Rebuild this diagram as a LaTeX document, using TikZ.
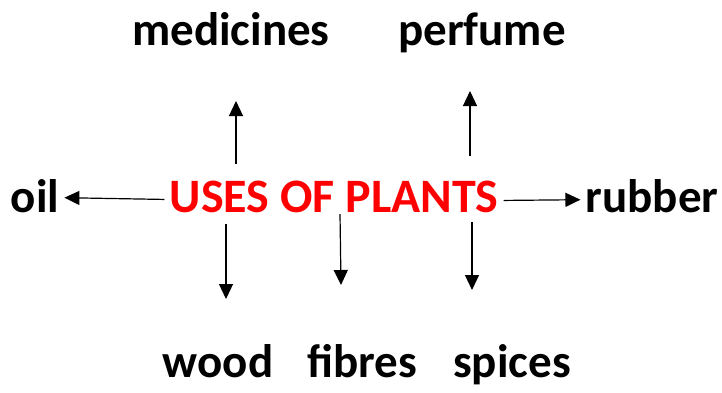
\documentclass[tikz,border=0pt]{standalone}
\usepackage{fontspec}
\setmainfont{Carlito}
\usepackage{tikz}
\usetikzlibrary{arrows.meta,positioning,calc}
\definecolor{usesred}{HTML}{FF0000}

\begin{document}
\begin{tikzpicture}[
    x=1pt, y=-1pt,
    word/.style={anchor=base, inner sep=5pt, font=\fontsize{47}{56}\selectfont\bfseries},
    title/.style={word, text=usesred, font=\fontsize{48}{56}\selectfont\bfseries},
    arrow/.style={-{Triangle[length=15pt,width=14pt]}, line width=1.2pt, color=black},
]
    \useasboundingbox (0,0) rectangle (722,392);

    \node[title] (uses) at (334,212) {USES OF PLANTS};

    \node[word] (med) at (231,45) {medicines};
    \node[word] (perf) at (482,45) {perfume};
    \node[word] (oil) at (35,212) {oil};
    \node[word] (rub) at (652,212) {rubber};
    \node[word] (wood) at (218,377) {wood};
    \node[word] (fib) at (362,377) {fibres};
    \node[word] (spic) at (512,377) {spices};

    % arrow ends
    \coordinate (med0) at (236,164);  \coordinate (med1) at (236,101);
    \coordinate (perf0) at (470,156); \coordinate (perf1) at (470,91);
    \coordinate (wood0) at (226,224); \coordinate (wood1) at (226,299);
    \coordinate (fib0) at (340,214);  \coordinate (fib1) at (341,285);
    \coordinate (spic0) at (472,222); \coordinate (spic1) at (472,290);

    \draw[arrow] ([yshift=-3pt]uses.west) -- ([yshift=-2pt]oil.east);
    \draw[arrow] ([yshift=-4pt]uses.east) -- ([yshift=-4pt]rub.west);
    \draw[arrow] (med0) -- (med1);
    \draw[arrow] (perf0) -- (perf1);
    \draw[arrow] (wood0) -- (wood1);
    \draw[arrow] (fib0) -- (fib1);
    \draw[arrow] (spic0) -- (spic1);
\end{tikzpicture}
\end{document}
